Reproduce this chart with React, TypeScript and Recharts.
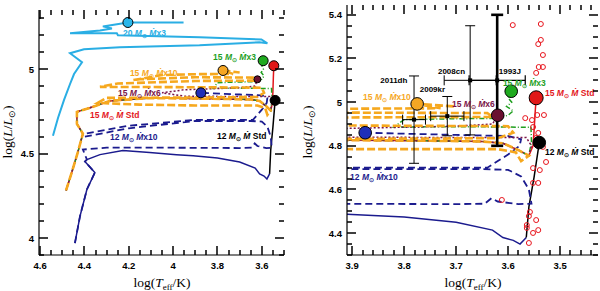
import React from 'react';
import { ComposedChart, Line, Scatter, XAxis, YAxis, ErrorBar } from 'recharts';

type Pt = [number, number];

const CYAN = '#2aaee4';
const GREEN = '#1f9f1f';
const RED = '#e3161c';
const ORANGE = '#f6a81e';
const MAROON = '#7b1548';
const NAVY = '#1b1b8e';
const SANS = '"Liberation Sans", Arial, sans-serif';
const SERIF = '"Liberation Serif", "Times New Roman", serif';

// tracks: [log Teff, log L]
const track20x3: Pt[] = [
  [4.542, 4.606], [4.519, 4.712], [4.492, 4.818], [4.465, 4.912], [4.447, 4.971], [4.411, 5.041],
  [4.465, 5.094], [4.402, 5.118], [4.24, 5.129], [3.881, 5.141], [3.611, 5.159], [3.575, 5.153],
  [3.602, 5.176], [3.881, 5.188], [4.249, 5.2], [4.254, 5.212], [4.465, 5.212], [4.33, 5.229],
  [4.276, 5.241], [4.317, 5.253], [4.204, 5.276], [3.953, 5.276],
];

const ms15: Pt[] = [
  [4.483, 4.282], [4.456, 4.394], [4.429, 4.512], [4.407, 4.618], [4.434, 4.676], [4.434, 4.747],
  [4.375, 4.771], [4.285, 4.812], [4.106, 4.829], [3.91, 4.826], [3.75, 4.823], [3.65, 4.82],
  [3.61, 4.812], [3.58, 4.78], [3.56, 4.755],
];
const tail15Std: Pt[] = [[3.552, 4.8], [3.55, 4.87], [3.548, 4.95], [3.546, 5.02]];
const tail15x3: Pt[] = [
  [3.555, 4.82], [3.556, 4.885], [3.65, 4.887], [3.75, 4.887], [3.82, 4.886], [3.8, 4.92],
  [3.7, 4.924], [3.62, 4.926], [3.6, 4.94], [3.59, 4.96], [3.603, 4.98], [3.593, 5.0],
  [3.6, 5.02], [3.594, 5.05],
];
const tail15x6: Pt[] = [
  [3.555, 4.8], [3.565, 4.838], [3.7, 4.838], [3.95, 4.84], [4.05, 4.86], [3.95, 4.878],
  [3.7, 4.89], [3.63, 4.9], [3.62, 4.94],
];
const tail15x10: Pt[] = [
  [3.575, 4.73], [3.585, 4.77], [3.62, 4.785], [3.9, 4.785], [4.15, 4.79], [4.34, 4.8],
  [4.3, 4.83], [3.9, 4.832], [3.62, 4.835], [3.59, 4.86], [3.6, 4.89], [3.9, 4.893],
  [4.33, 4.895], [4.25, 4.915], [3.9, 4.93], [3.63, 4.932], [3.64, 4.95], [3.9, 4.952],
  [4.15, 4.94], [4.18, 4.935], [4.05, 4.965], [3.9, 4.97], [3.73, 4.972], [3.76, 4.985],
  [3.775, 4.992], [3.7, 4.98],
];

const ms12: Pt[] = [
  [4.443, 3.97], [4.42, 4.13], [4.389, 4.288], [4.353, 4.388], [4.398, 4.453], [4.389, 4.465],
  [4.33, 4.494], [4.227, 4.518], [4.106, 4.506], [3.985, 4.494], [3.91, 4.487], [3.8, 4.474],
  [3.7, 4.45], [3.63, 4.414], [3.61, 4.38], [3.59, 4.367], [3.577, 4.35], [3.565, 4.38],
];
const tail12Std: Pt[] = [[3.565, 4.38], [3.56, 4.52], [3.55, 4.657], [3.54, 4.815]];
const tail12x10: Pt[] = [
  [4.407, 4.524], [4.3, 4.535], [4.0, 4.535], [3.7, 4.533], [3.645, 4.535], [3.632, 4.56],
  [3.62, 4.545], [3.58, 4.533], [3.555, 4.535], [3.56, 4.6], [3.575, 4.66], [3.6, 4.69],
  [3.65, 4.693], [3.9, 4.693], [4.2, 4.65], [4.398, 4.6], [4.39, 4.62], [4.2, 4.665],
  [3.9, 4.7], [3.64, 4.7], [3.6, 4.76], [3.578, 4.8], [3.575, 4.83], [3.6, 4.845],
  [3.7, 4.85], [3.878, 4.86],
];

// end points of the models
const endPoints = [
  { x: 4.204, y: 5.276, fill: '#2ab6ea', key: 'c' },
  { x: 3.875, y: 4.86, fill: '#1f2fb8', key: 'b' },
  { x: 3.775, y: 4.992, fill: '#f5a623', key: 'o' },
  { x: 3.62, y: 4.94, fill: '#6a1030', key: 'm' },
  { x: 3.594, y: 5.05, fill: '#1faa1f', key: 'g' },
  { x: 3.546, y: 5.02, fill: '#e01818', key: 'r' },
  { x: 3.54, y: 4.815, fill: '#000', key: 'k' },
];

// RSG observations
const rsgTeff = [
  3.591, 3.537, 3.537, 3.542, 3.533, 3.541, 3.533, 3.546, 3.554, 3.567, 3.554, 3.544, 3.531,
  3.552, 3.542, 3.546, 3.533, 3.527, 3.552, 3.539, 3.552, 3.542, 3.612, 3.558, 3.56, 3.546,
  3.564, 3.564, 3.542, 3.552, 3.56,
];
const rsgLum = [
  5.353, 5.358, 5.285, 5.266, 5.216, 5.161, 5.161, 5.134, 5.01, 4.927, 4.918, 4.941, 4.941,
  4.886, 4.859, 4.836, 4.795, 4.726, 4.698, 4.689, 4.63, 4.63, 4.552, 4.497, 4.478, 4.46,
  4.437, 4.424, 4.414, 4.401, 4.355,
];

// SN progenitors
const snNames = ['2011dh', '2009kr', '2008cn', '1993J'];
const snTeff = [3.781, 3.717, 3.673, 3.621];
const snTeffErr = [0.022, 0.032, 0.05, 0.054];
const snLum = [4.92, 4.936, 5.1, 5.1];
const snLumErr = [0.2, 0.09, 0.25, 0.3];
const snLabelPos: Pt[] = [[3.846, 5.088], [3.77, 5.046], [3.735, 5.129], [3.618, 5.129]];

const leftLabels = [
  { x: 4.226, y: 5.196, mass: '20', rate: 'x3', color: CYAN },
  { x: 3.82, y: 5.054, mass: '15', rate: 'x3', color: GREEN },
  { x: 4.195, y: 4.96, mass: '15', rate: 'x10', color: ORANGE },
  { x: 4.249, y: 4.841, mass: '15', rate: 'x6', color: MAROON },
  { x: 4.375, y: 4.711, mass: '15', rate: ' Std', color: RED },
  { x: 4.285, y: 4.58, mass: '12', rate: 'x10', color: NAVY },
  { x: 3.802, y: 4.587, mass: '12', rate: ' Std', color: '#000' },
];
const rightLabels = [
  { x: 3.879, y: 5.01, mass: '15', rate: 'x10', color: ORANGE },
  { x: 3.708, y: 4.978, mass: '15', rate: 'x6', color: MAROON },
  { x: 3.61, y: 5.074, mass: '15', rate: 'x3', color: GREEN },
  { x: 3.529, y: 5.028, mass: '15', rate: ' Std', color: RED },
  { x: 3.529, y: 4.758, mass: '12', rate: ' Std', color: '#000' },
  { x: 3.904, y: 4.643, mass: '12', rate: 'x10', color: NAVY },
];

const leftXTicks = [3.5, 3.55, 3.6, 3.65, 3.7, 3.75, 3.8, 3.85, 3.9, 3.95, 4, 4.05, 4.1, 4.15, 4.2, 4.25, 4.3, 4.35, 4.4, 4.45, 4.5, 4.55, 4.6];
const leftXMajor = [3.6, 3.8, 4, 4.2, 4.4, 4.6];
const leftYTicks = [3.9, 4, 4.1, 4.2, 4.3, 4.4, 4.5, 4.6, 4.7, 4.8, 4.9, 5, 5.1, 5.2, 5.3];
const leftYMajor = [4, 4.5, 5];
const rightXTicks = [3.44, 3.46, 3.48, 3.5, 3.52, 3.54, 3.56, 3.58, 3.6, 3.62, 3.64, 3.66, 3.68, 3.7, 3.72, 3.74, 3.76, 3.78, 3.8, 3.82, 3.84, 3.86, 3.88, 3.9];
const rightXMajor = [3.5, 3.6, 3.7, 3.8, 3.9];
const rightYTicks = [4.3, 4.35, 4.4, 4.45, 4.5, 4.55, 4.6, 4.65, 4.7, 4.75, 4.8, 4.85, 4.9, 4.95, 5, 5.05, 5.1, 5.15, 5.2, 5.25, 5.3, 5.35, 5.4];
const rightYMajor = [4.4, 4.6, 4.8, 5, 5.2, 5.4];

const xy = (pts: Pt[]) => pts.map(([x, y]) => ({ x, y }));
const isMajor = (majors: number[], v: number) => majors.some(m => Math.abs(m - v) < 1e-6);

const tracks = [
  { key: '20x3', pts: track20x3, color: CYAN, width: 2, dash: undefined as string | undefined, onlyLeft: true },
  { key: '12std', pts: ms12, color: NAVY, width: 1.5, dash: undefined },
  { key: '12rsg', pts: tail12Std, color: '#000', width: 1.5, dash: undefined },
  { key: '12x10', pts: [...ms12.slice(0, 6), ...tail12x10], color: NAVY, width: 1.8, dash: '7 4' },
  { key: '15std', pts: [...ms15, ...tail15Std], color: RED, width: 1.5, dash: undefined },
  { key: '15x3', pts: [...ms15, ...tail15x3], color: GREEN, width: 1.5, dash: '5 2 1 2' },
  { key: '15x6', pts: [...ms15, ...tail15x6], color: MAROON, width: 1.5, dash: '2 2' },
  { key: '15x10', pts: [...ms15, ...tail15x10], color: ORANGE, width: 2.6, dash: '8 3' },
];

function tickLabel(side: 'bottom' | 'left', majors: number[]) {
  return (props: any) => {
    const { x, y, payload } = props;
    const v = payload.value as number;
    if (!isMajor(majors, v)) return <g />;
    return side === 'bottom'
      ? <text x={x} y={y + 14} textAnchor="middle" fontFamily={SANS} fontWeight="bold" fontSize={9.5}>{String(v)}</text>
      : <text x={x - 5} y={y + 3.5} textAnchor="end" fontFamily={SANS} fontWeight="bold" fontSize={9.5}>{String(v)}</text>;
  };
}

const TrackLabel = (p: any) => {
  const d = p.payload;
  return (
    <text x={p.cx} y={p.cy} fill={d.color} fontFamily={SANS} fontWeight="bold" fontSize={8.5}>
      <tspan>{d.mass + ' '}</tspan>
      <tspan fontStyle="italic">M</tspan>
      <tspan fontSize={6} dy={2}>⊙</tspan>
      <tspan dy={-2}>{' '}</tspan>
      <tspan fontStyle="italic">Ṁ</tspan>
      <tspan>{d.rate}</tspan>
    </text>
  );
};

const SnLabel = (p: any) => (
  <text x={p.cx} y={p.cy} fill="#000" fontFamily={SANS} fontWeight="bold" fontSize={8}>{p.payload.name}</text>
);

interface Box { x: number; y: number; w: number; h: number }

interface PanelProps {
  left: number;
  box: Box;
  xDomain: [number, number];
  yDomain: [number, number];
  xTicks: number[];
  xMajor: number[];
  yTicks: number[];
  yMajor: number[];
  zoomed: boolean;
}

// inward tick marks on all four sides of the frame
function FrameTicks({ cfg }: { cfg: PanelProps }) {
  const { box, xDomain: [xa, xb], yDomain: [ya, yb] } = cfg;
  const ox = box.x + cfg.left;
  const px = (v: number) => Math.round(ox + ((xb - v) / (xb - xa)) * box.w); // reversed x
  const py = (v: number) => Math.round(box.y + ((yb - v) / (yb - ya)) * box.h);
  const bot = box.y + box.h;
  const right = ox + box.w;
  const marks: React.ReactNode[] = [];
  cfg.xTicks.forEach((v, i) => {
    const len = isMajor(cfg.xMajor, v) ? 9 : 5;
    const x = px(v);
    marks.push(<rect key={`b${i}`} x={x - 0.75} y={bot - len} width={1.5} height={len} fill="#000" />);
    marks.push(<rect key={`t${i}`} x={x - 0.75} y={box.y} width={1.5} height={len} fill="#000" />);
  });
  cfg.yTicks.forEach((v, i) => {
    const len = isMajor(cfg.yMajor, v) ? 9 : 5;
    const y = py(v);
    marks.push(<rect key={`l${i}`} x={ox} y={y - 0.75} width={len} height={1.5} fill="#000" />);
    marks.push(<rect key={`r${i}`} x={right - len} y={y - 0.75} width={len} height={1.5} fill="#000" />);
  });
  return <g>{marks}</g>;
}

function Panel(cfg: PanelProps) {
  const { box } = cfg;
  const labels = cfg.zoomed ? rightLabels : leftLabels;
  const ends = cfg.zoomed ? endPoints.filter(e => e.key !== 'c') : endPoints;
  const rad = (k: string) => (cfg.zoomed ? (k === 'r' ? 7 : 6.3) : k === 'm' ? 3.5 : 5);
  const rsg = rsgTeff.map((t, i) => ({ x: t, y: rsgLum[i] }));
  const sn = snNames.map((n, i) => ({ x: snTeff[i], y: snLum[i], ex: snTeffErr[i], ey: snLumErr[i], name: n }));
  const snLbl = snNames.map((n, i) => ({ x: snLabelPos[i][0], y: snLabelPos[i][1], name: n }));

  const axisCommon = {
    type: 'number' as const,
    allowDataOverflow: true,
    interval: 0 as const,
    tickSize: 0,
    tickMargin: 0,
    tickLine: false,
    axisLine: { stroke: '#000', strokeWidth: 1.2 },
  };

  return (
    <div style={{ position: 'absolute', left: cfg.left, top: 0 }}>
      <ComposedChart width={300} height={291}
        margin={{ top: box.y, right: 300 - box.x - box.w, bottom: 0, left: 0 }}>
        <XAxis {...axisCommon} dataKey="x" domain={cfg.xDomain} reversed ticks={cfg.xTicks} height={291 - box.y - box.h}
          tick={tickLabel('bottom', cfg.xMajor)} />
        <XAxis {...axisCommon} xAxisId="top" orientation="top" dataKey="x" domain={cfg.xDomain} reversed
          ticks={cfg.xTicks} height={0} tick={false} />
        <YAxis {...axisCommon} dataKey="y" domain={cfg.yDomain} ticks={cfg.yTicks} width={box.x}
          tick={tickLabel('left', cfg.yMajor)} />
        <YAxis {...axisCommon} yAxisId="right" orientation="right" dataKey="y" domain={cfg.yDomain}
          ticks={cfg.yTicks} width={0} tick={false} />

        {tracks.filter(t => !(cfg.zoomed && t.onlyLeft)).map(t => (
          <Line key={t.key} data={xy(t.pts)} dataKey="y" type="linear" stroke={t.color}
            strokeWidth={t.width} strokeDasharray={t.dash} dot={false} activeDot={false}
            isAnimationActive={false} />
        ))}

        {cfg.zoomed && (
          <Scatter data={rsg} isAnimationActive={false}
            shape={(p: any) => <circle cx={p.cx} cy={p.cy} r={2.5} fill="none" stroke="#e8141c" strokeWidth={1} />} />
        )}

        {ends.map(e => (
          <Scatter key={e.key} data={[e]} isAnimationActive={false}
            shape={(p: any) => <circle cx={p.cx} cy={p.cy} r={rad(e.key)} fill={e.fill} stroke="#000" strokeWidth={1} />} />
        ))}

        {cfg.zoomed && (
          <Scatter data={sn.slice(0, 3)} isAnimationActive={false}
            shape={(p: any) => <rect x={p.cx - 2} y={p.cy - 2} width={4} height={4} fill="#000" />}>
            <ErrorBar dataKey="ex" direction="x" width={5} stroke="#000" strokeWidth={1} />
            <ErrorBar dataKey="ey" direction="y" width={5} stroke="#000" strokeWidth={1} />
          </Scatter>
        )}
        {cfg.zoomed && (
          <Scatter data={sn.slice(3)} isAnimationActive={false}
            shape={(p: any) => <rect x={p.cx - 2} y={p.cy - 2} width={4} height={4} fill="#000" />}>
            <ErrorBar dataKey="ex" direction="x" width={5} stroke="#000" strokeWidth={1.2} />
            <ErrorBar dataKey="ey" direction="y" width={6} stroke="#000" strokeWidth={2.6} />
          </Scatter>
        )}
        {cfg.zoomed && <Scatter data={snLbl} isAnimationActive={false} shape={SnLabel} />}

        <Scatter data={labels} isAnimationActive={false} shape={TrackLabel} />
      </ComposedChart>
    </div>
  );
}

const TitleX = ({ x, y }: { x: number; y: number }) => (
  <text x={x} y={y} textAnchor="middle" fontFamily={SERIF} fontSize={13.5}>
    <tspan>log(</tspan>
    <tspan fontStyle="italic">T</tspan>
    <tspan fontSize={9} dy={3}>eff</tspan>
    <tspan dy={-3}>/K)</tspan>
  </text>
);

const TitleY = ({ x, y }: { x: number; y: number }) => (
  <text x={x} y={y} textAnchor="middle" fontFamily={SERIF} fontSize={13.5} transform={`rotate(-90 ${x} ${y})`}>
    <tspan>log(</tspan>
    <tspan fontStyle="italic">L</tspan>
    <tspan>/</tspan>
    <tspan fontStyle="italic">L</tspan>
    <tspan fontSize={9} dy={3}>⊙</tspan>
    <tspan dy={-3}>)</tspan>
  </text>
);

const leftPanel: PanelProps = {
  left: 0, box: { x: 39, y: 10, w: 245, h: 245 }, xDomain: [3.5, 4.605], yDomain: [3.9, 5.35],
  xTicks: leftXTicks, xMajor: leftXMajor, yTicks: leftYTicks, yMajor: leftYMajor, zoomed: false,
};
const rightPanel: PanelProps = {
  left: 300, box: { x: 47, y: 5, w: 251, h: 250 }, xDomain: [3.427, 3.91], yDomain: [4.3, 5.445],
  xTicks: rightXTicks, xMajor: rightXMajor, yTicks: rightYTicks, yMajor: rightYMajor, zoomed: true,
};

export default function App() {
  return (
    <div style={{ position: 'absolute', left: 0, top: 0, width: 600, height: 291, background: '#fff', overflow: 'hidden' }}>
      <Panel {...leftPanel} />
      <Panel {...rightPanel} />
      <svg width={600} height={291} style={{ position: 'absolute', left: 0, top: 0, pointerEvents: 'none' }}>
        <FrameTicks cfg={leftPanel} />
        <FrameTicks cfg={rightPanel} />
        <TitleX x={162} y={287} />
        <TitleX x={473} y={287} />
        <TitleY x={12} y={132} />
        <TitleY x={312} y={132} />
      </svg>
    </div>
  );
}
